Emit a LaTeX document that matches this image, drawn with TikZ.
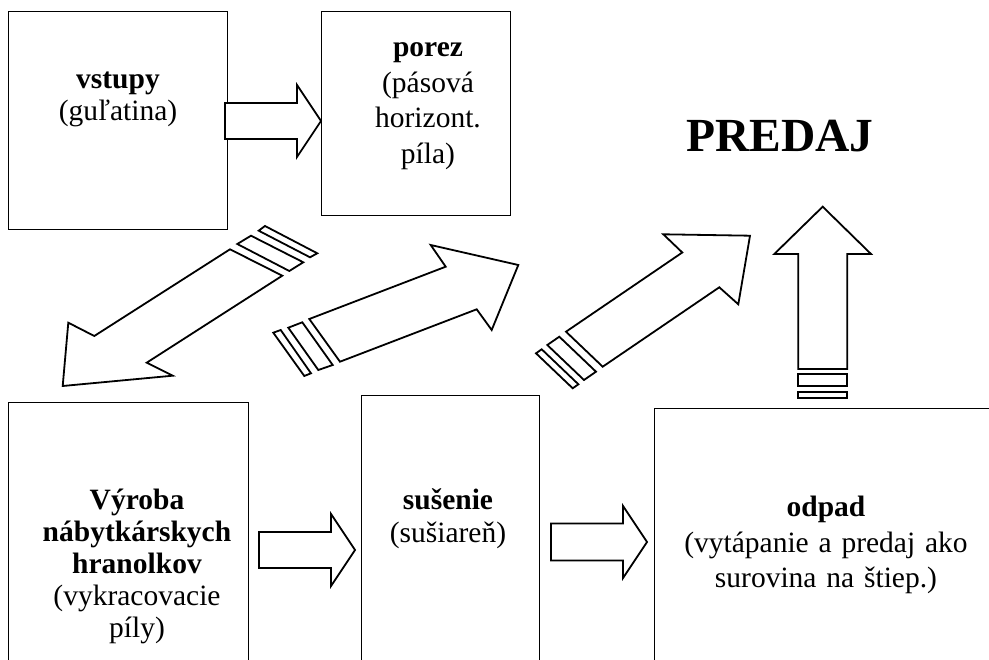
\documentclass[tikz,border=0pt]{standalone}
\usepackage{fontspec}
\setmainfont{Liberation Serif}
\begin{document}
\begin{tikzpicture}[x=1pt,y=-1pt,
  box/.style={draw, line width=1pt, inner sep=0pt},
  blk/.style={draw, line width=1.8pt, fill=white, line join=miter},
  txt/.style={text width=320pt, align=center, anchor=base, inner sep=0pt,
    font=\fontsize{29.5}{34}\selectfont}]
\useasboundingbox (0,0) rectangle (989,660);
\clip (0,0) rectangle (989,660);
% boxes
\node[box, minimum width=219pt, minimum height=218pt] (vstupy) at (117.5,121) {};
\node[box, minimum width=189pt, minimum height=204pt] (porez) at (415.5,114) {};
\node[box, minimum width=240pt, minimum height=297pt] (vyroba) at (128,551.5) {};
\node[box, minimum width=178pt, minimum height=304pt] (susenie) at (450,548) {};
\node[box, minimum width=356pt, minimum height=291pt] (odpad) at (832,554.5) {};
% texts
\node[txt, font=\fontsize{29.5}{32}\selectfont] (tvstupy) at (118,89) {\textbf{vstupy}\\(guľatina)};
\node[txt, font=\fontsize{29.5}{35.5}\selectfont] (tporez) at (428,57) {\textbf{porez}\\(pásová\\horizont.\\píla)};
\node[txt, font=\fontsize{29.5}{32}\selectfont] (tvyroba) at (137,510) {\textbf{Výroba}\\\textbf{nábytkárskych}\\\textbf{hranolkov}\\(vykracovacie\\píly)};
\node[txt, font=\fontsize{29.5}{33}\selectfont] (tsusenie) at (448,510) {\textbf{sušenie}\\(sušiareň)};
\node[txt, font=\fontsize{29.5}{36}\selectfont] (todpad) at (826,516) {\textbf{odpad}\\(vytápanie a predaj ako\\surovina na štiep.)};
\node[anchor=base, inner sep=0pt, font=\fontsize{47.5}{50}\selectfont\bfseries] (predaj) at (780,152) {PREDAJ};
% horizontal block arrows
\draw[blk] (225,103) -- (297,103) -- (297,85) -- (321,121) -- (297,157) -- (297,139) -- (225,139) -- cycle;
\draw[blk] (259,532) -- (331,532) -- (331,514) -- (355,550) -- (331,586) -- (331,568) -- (259,568) -- cycle;
\draw[blk] (551,523.5) -- (623,523.5) -- (623,506) -- (647,542) -- (623,578) -- (623,560.5) -- (551,560.5) -- cycle;
% striped arrow A (down-left)
\draw[blk] (230,249.3) -- (94.3,336) -- (68.3,322.7) -- (62.7,386) -- (172.7,375.7) -- (146.7,362.7) -- (282.3,275.7) -- cycle;
\draw[blk] (251,235.7) -- (303.3,262.3) -- (289.3,271) -- (237.3,244) -- cycle;
\draw[blk] (265,226) -- (317.3,253.3) -- (310,257.3) -- (258.7,230.7) -- cycle;
% striped arrow B (up-right)
\draw[blk] (309.3,319) -- (445.7,266.7) -- (430.7,245) -- (518.3,265) -- (491.7,330) -- (476.7,309.3) -- (340,361.7) -- cycle;
\draw[blk] (288.3,327.7) -- (302.3,322.3) -- (332.7,365) -- (318.3,370) -- cycle;
\draw[blk] (273.3,332.7) -- (280.7,330) -- (311,373.3) -- (304.3,376) -- cycle;
% striped arrow C (up-right)
\draw[blk] (566,331.7) -- (682.3,252.5) -- (663.3,234.3) -- (750,235.7) -- (738.3,304.3) -- (719.3,287.3) -- (602.7,366.7) -- cycle;
\draw[blk] (559.3,336.7) -- (596,371.7) -- (584,380) -- (547.3,345) -- cycle;
\draw[blk] (541.7,349.3) -- (578.4,384.3) -- (572.7,388.3) -- (536,353.3) -- cycle;
% striped arrow D (up)
\draw[blk] (798.3,369) -- (798.3,254) -- (774.3,254) -- (822.7,206.7) -- (871,254) -- (847.3,254) -- (847.3,369) -- cycle;
\draw[blk] (798.3,374) rectangle (847.3,386);
\draw[blk] (798.3,392) rectangle (847.3,397.7);
\end{tikzpicture}
\end{document}
